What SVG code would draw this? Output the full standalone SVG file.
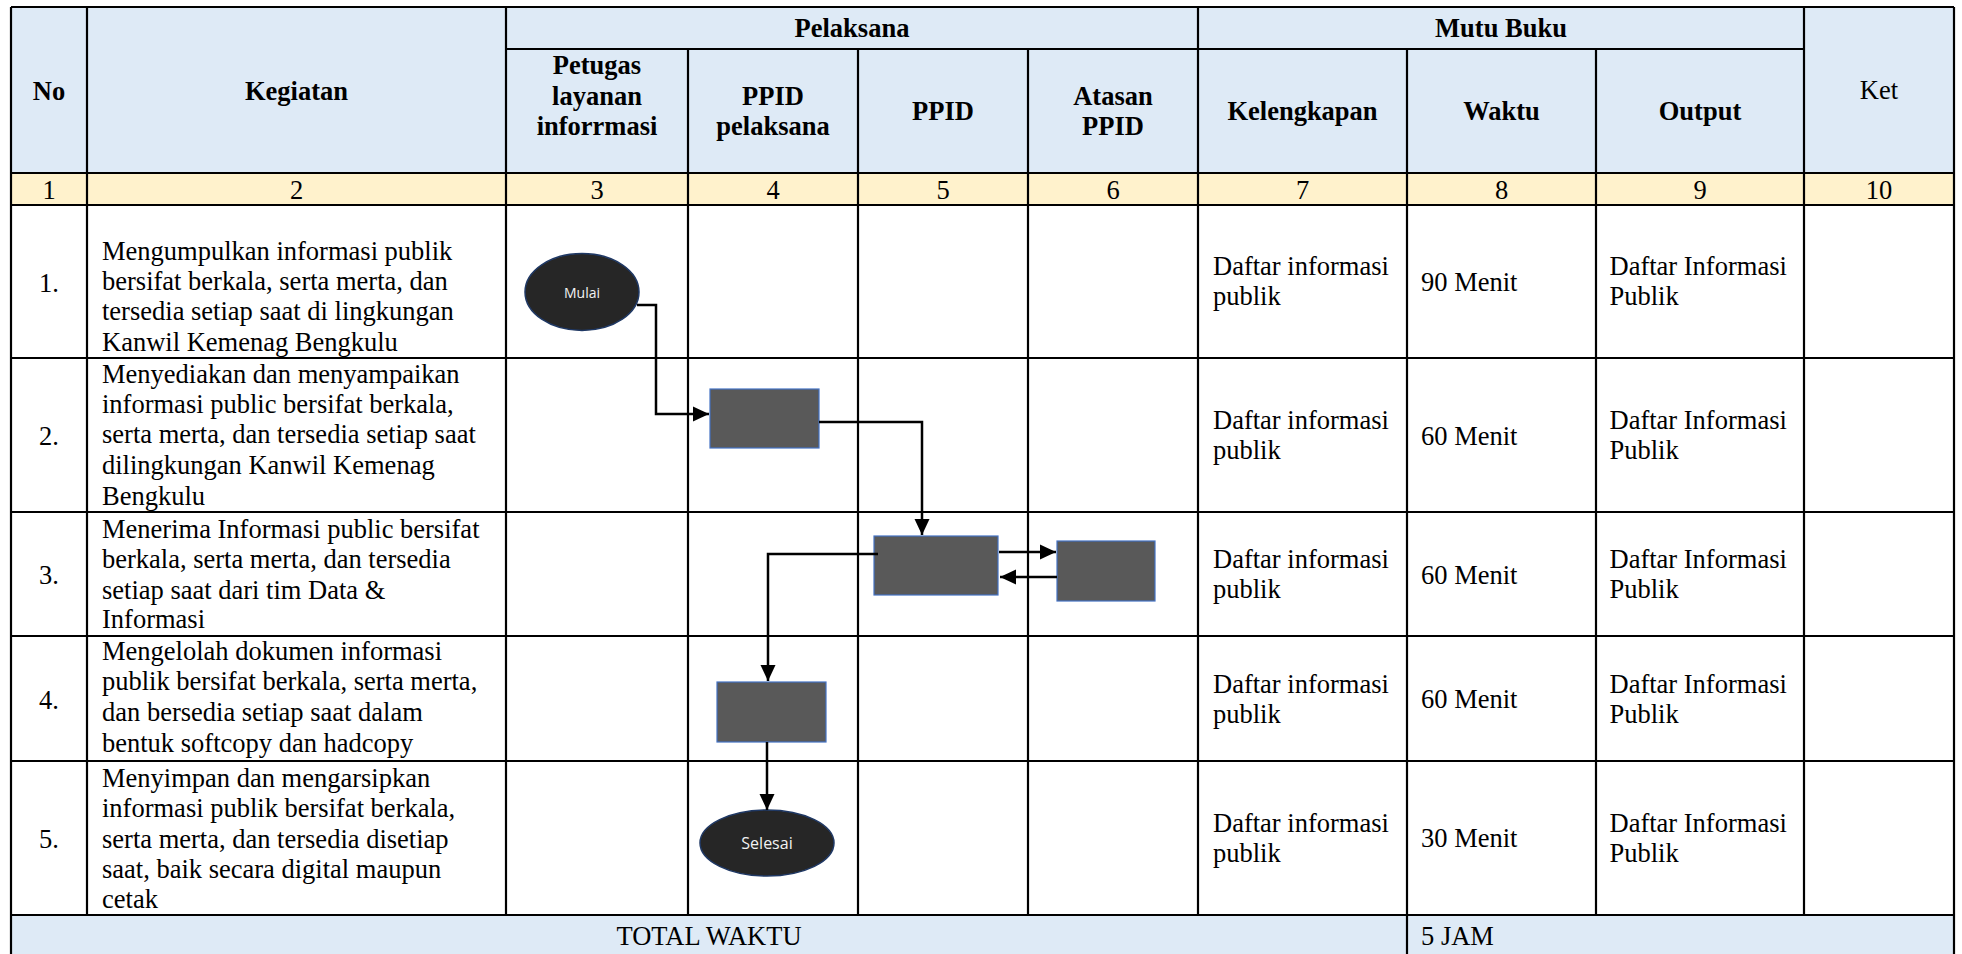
<svg xmlns="http://www.w3.org/2000/svg" width="1962" height="954" viewBox="0 0 1962 954">
<style>
.t{font-family:"Liberation Serif","Times New Roman",serif;font-size:26.5px;fill:#000}
.h{font-family:"Liberation Serif","Times New Roman",serif;font-size:26.5px;font-weight:bold;fill:#000;text-anchor:middle}
.c{text-anchor:middle}
.grid{stroke:#000;stroke-width:2.2;fill:none}
.term{fill:#262626;stroke:#1F3864;stroke-width:1.5}
.proc{fill:#595959;stroke:#4472C4;stroke-width:1.2}
.lbl{font-family:"Open Sans","Liberation Sans",sans-serif;fill:#F2F2F2;text-anchor:middle}
.conn{stroke:#000;stroke-width:2.5;fill:none}
</style>
<defs>
<marker id="arr" markerUnits="userSpaceOnUse" markerWidth="16" markerHeight="16" viewBox="0 0 16 16" refX="16" refY="8" orient="auto">
<path d="M0,0.5 L16,8 L0,15.5 z" fill="#000"/>
</marker>
</defs>
<rect x="0" y="0" width="1962" height="954" fill="#fff"/>
<g id="table">
<rect x="11" y="7" width="1943" height="166" fill="#DEEAF6"/>
<rect x="11" y="173" width="1943" height="32" fill="#FFF2CC"/>
<rect x="11" y="915" width="1943" height="45" fill="#DEEAF6"/>
<path class="grid" d="M11,7H1954 M506,49H1804 M11,173H1954 M11,205H1954 M11,358H1954 M11,512H1954 M11,636H1954 M11,761H1954 M11,915H1954 M11,960H1954
M11,7V960 M87,7V915 M506,7V915 M688,49V915 M858,49V915 M1028,49V915 M1198,7V915 M1407,49V960 M1596,49V915 M1804,7V915 M1954,7V960"/>
</g>
<g id="header">
<text class="h" x="49" y="100">No</text>
<text class="h" x="296.5" y="100">Kegiatan</text>
<text class="h" x="852" y="37">Pelaksana</text>
<text class="h" x="1501" y="37">Mutu Buku</text>
<text class="h" x="597" y="74">Petugas</text>
<text class="h" x="597" y="105">layanan</text>
<text class="h" x="597" y="135">inforrmasi</text>
<text class="h" x="773" y="105">PPID</text>
<text class="h" x="773" y="135">pelaksana</text>
<text class="h" x="943" y="120">PPID</text>
<text class="h" x="1113" y="105">Atasan</text>
<text class="h" x="1113" y="135">PPID</text>
<text class="h" x="1302.5" y="120">Kelengkapan</text>
<text class="h" x="1501.5" y="120">Waktu</text>
<text class="h" x="1700" y="120">Output</text>
<text class="t c" x="1879" y="99">Ket</text>
</g>
<g id="numbers">
<text class="t c" x="49" y="199">1</text>
<text class="t c" x="296.5" y="199">2</text>
<text class="t c" x="597" y="199">3</text>
<text class="t c" x="773" y="199">4</text>
<text class="t c" x="943" y="199">5</text>
<text class="t c" x="1113" y="199">6</text>
<text class="t c" x="1302.5" y="199">7</text>
<text class="t c" x="1501.5" y="199">8</text>
<text class="t c" x="1700" y="199">9</text>
<text class="t c" x="1879" y="199">10</text>
</g>
<g id="col-no">
<text class="t c" x="49" y="292">1.</text>
<text class="t c" x="49" y="445">2.</text>
<text class="t c" x="49" y="584">3.</text>
<text class="t c" x="49" y="709">4.</text>
<text class="t c" x="49" y="848">5.</text>
</g>
<g id="col-kegiatan">
<text class="t" x="102" y="260">Mengumpulkan informasi publik</text>
<text class="t" x="102" y="290">bersifat berkala, serta merta, dan</text>
<text class="t" x="102" y="320">tersedia setiap saat di lingkungan</text>
<text class="t" x="102" y="351">Kanwil Kemenag Bengkulu</text>
<text class="t" x="102" y="383">Menyediakan dan menyampaikan</text>
<text class="t" x="102" y="413">informasi public bersifat berkala,</text>
<text class="t" x="102" y="443">serta merta, dan tersedia setiap saat</text>
<text class="t" x="102" y="474">dilingkungan Kanwil Kemenag</text>
<text class="t" x="102" y="505">Bengkulu</text>
<text class="t" x="102" y="538">Menerima Informasi public bersifat</text>
<text class="t" x="102" y="568">berkala, serta merta, dan tersedia</text>
<text class="t" x="102" y="599">setiap saat dari tim Data &amp;</text>
<text class="t" x="102" y="628">Informasi</text>
<text class="t" x="102" y="660">Mengelolah dokumen informasi</text>
<text class="t" x="102" y="690">publik bersifat berkala, serta merta,</text>
<text class="t" x="102" y="721">dan bersedia setiap saat dalam</text>
<text class="t" x="102" y="752">bentuk softcopy dan hadcopy</text>
<text class="t" x="102" y="787">Menyimpan dan mengarsipkan</text>
<text class="t" x="102" y="817">informasi publik bersifat berkala,</text>
<text class="t" x="102" y="848">serta merta, dan tersedia disetiap</text>
<text class="t" x="102" y="878">saat, baik secara digital maupun</text>
<text class="t" x="102" y="908">cetak</text>
</g>
<g id="col-mutu">
<text class="t" x="1213" y="275">Daftar informasi</text>
<text class="t" x="1213" y="305">publik</text>
<text class="t" x="1421" y="291">90 Menit</text>
<text class="t" x="1609.5" y="275">Daftar Informasi</text>
<text class="t" x="1609.5" y="305">Publik</text>
<text class="t" x="1213" y="429">Daftar informasi</text>
<text class="t" x="1213" y="459">publik</text>
<text class="t" x="1421" y="445">60 Menit</text>
<text class="t" x="1609.5" y="429">Daftar Informasi</text>
<text class="t" x="1609.5" y="459">Publik</text>
<text class="t" x="1213" y="568">Daftar informasi</text>
<text class="t" x="1213" y="598">publik</text>
<text class="t" x="1421" y="584">60 Menit</text>
<text class="t" x="1609.5" y="568">Daftar Informasi</text>
<text class="t" x="1609.5" y="598">Publik</text>
<text class="t" x="1213" y="693">Daftar informasi</text>
<text class="t" x="1213" y="723">publik</text>
<text class="t" x="1421" y="708">60 Menit</text>
<text class="t" x="1609.5" y="693">Daftar Informasi</text>
<text class="t" x="1609.5" y="723">Publik</text>
<text class="t" x="1213" y="832">Daftar informasi</text>
<text class="t" x="1213" y="862">publik</text>
<text class="t" x="1421" y="847">30 Menit</text>
<text class="t" x="1609.5" y="832">Daftar Informasi</text>
<text class="t" x="1609.5" y="862">Publik</text>
</g>
<g id="total">
<text class="t c" x="709" y="945">TOTAL WAKTU</text>
<text class="t" x="1421" y="945">5 JAM</text>
</g>
<g id="node-mulai">
<ellipse class="term" cx="582" cy="292" rx="57" ry="38.5"/>
<text class="lbl" x="582" y="298" font-size="14">Mulai</text>
</g>
<g id="node-step2">
<rect class="proc" x="710" y="389" width="109" height="59"/>
</g>
<g id="node-step3-ppid">
<rect class="proc" x="874" y="536" width="124" height="59"/>
</g>
<g id="node-step3-atasan">
<rect class="proc" x="1057" y="541" width="98" height="60"/>
</g>
<g id="node-step4">
<rect class="proc" x="717" y="682" width="109" height="60"/>
</g>
<g id="node-selesai">
<ellipse class="term" cx="767" cy="843" rx="67" ry="33"/>
<text class="lbl" x="767" y="849" font-size="16">Selesai</text>
</g>
<g id="connectors">
<path class="conn" d="M637,305 H656 V414 H709" marker-end="url(#arr)"/>
<path class="conn" d="M819,422 H922 V535" marker-end="url(#arr)"/>
<path class="conn" d="M999,552 H1056" marker-end="url(#arr)"/>
<path class="conn" d="M1057,577 H1000" marker-end="url(#arr)"/>
<path class="conn" d="M878,554 H768 V681" marker-end="url(#arr)"/>
<path class="conn" d="M767,742 V810" marker-end="url(#arr)"/>
</g>
</svg>
